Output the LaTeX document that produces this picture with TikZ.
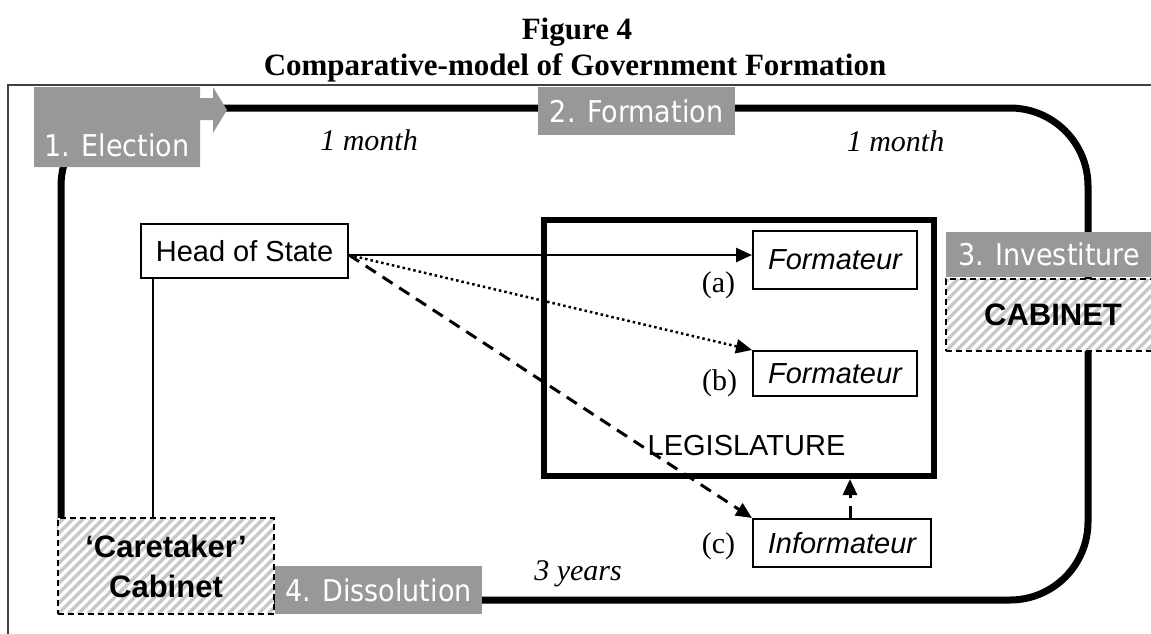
\documentclass[tikz,border=0pt]{standalone}
\usepackage{fontspec}
\setmainfont{Liberation Sans}
\newfontfamily\timesfont{Liberation Serif}
\newfontfamily\tahomafont{DejaVu Sans Condensed}
\usetikzlibrary{arrows.meta}
\definecolor{phasegray}{RGB}{152,152,152}
\definecolor{hatchgray}{RGB}{200,200,200}

\begin{document}
\begin{tikzpicture}[x=1pt,y=-1pt,
    phase/.style={fill=phasegray,text=white,inner sep=0pt,
        font=\tahomafont\fontsize{30}{36}\selectfont},
    akteur/.style={draw,line width=2pt,inner sep=0pt,
        font=\fontsize{29}{34}\selectfont},
    kabinett/.style={draw,dash pattern=on 6pt off 4pt,line width=2pt,
        fill=white,inner sep=0pt,align=center,
        path picture={\foreach \k in {-120,-110,...,230}
            \draw [solid,hatchgray,line width=3.5pt]
                ([xshift=\k pt]path picture bounding box.south west) -- ++(160pt,160pt);},
        font=\bfseries\fontsize{31}{40}\selectfont},
    dauer/.style={anchor=base,font=\timesfont\itshape\fontsize{30}{36}\selectfont},
    fall/.style={anchor=base,font=\timesfont\fontsize{30}{36}\selectfont},
    pfeil/.style={-{Triangle[length=16pt,width=14pt]},line width=2.5pt}]
    \useasboundingbox (0,0) rectangle (1151,633);
    \clip (0,0) rectangle (1151,633);
    % Titel
    \node [anchor=base,font=\timesfont\bfseries\fontsize{31}{36}\selectfont] (fig) at (577,39) {Figure 4};
    \node [anchor=base,font=\timesfont\bfseries\fontsize{31}{36}\selectfont] (titel) at (575,75) {Comparative-model of Government Formation};
    % Rahmen
    \draw [line width=2.5pt,black!75] (8,640) -- (8,85) -- (1160,85);
    % Zyklus
    \draw [line width=7pt,rounded corners=78pt] (61,108) rectangle (1088,600);
    \fill [phasegray] (34,87) -- (200,87) -- (200,98) -- (213,98) -- (213,87) -- (227,110)
        -- (213,133) -- (213,120) -- (200,120) -- (200,167) -- (34,167) -- cycle;
    \node [phase] (wahl) at (117,145) {1. Election};
    \node [phase,minimum width=197pt,minimum height=48pt] (bildung) at (636.5,111) {2. Formation};
    \node [phase,minimum width=206pt,minimum height=45pt] (invest) at (1049,254.5) {3. Investiture};
    \node [phase,minimum width=207pt,minimum height=48pt] (aufl) at (378.5,590) {4. Dissolution};
    \node [kabinett,minimum width=214pt,minimum height=72pt] (kab) at (1053,315) {CABINET};
    \node [kabinett,minimum width=216pt,minimum height=96pt] (hueter) at (166,566) {‘Caretaker’\\Cabinet};
    % Dauer
    \node [dauer] (monat1) at (369,150) {1 month};
    \node [dauer] (monat2) at (895.5,151) {1 month};
    \node [dauer] (jahre) at (578,580) {3 years};
    % Akteure
    \node [draw,line width=6pt,minimum width=390pt,minimum height=256pt] (parl) at (739,348) {};
    \node [anchor=base,font=\fontsize{29}{34}\selectfont] (parltext) at (746.5,455) {LEGISLATURE};
    \node [akteur,minimum width=207pt,minimum height=54pt] (staat) at (244.5,251) {Head of State};
    \node [akteur,minimum width=164pt,minimum height=58pt] (forma) at (835,260) {\itshape Formateur};
    \node [akteur,minimum width=164pt,minimum height=45pt] (formb) at (835,373.5) {\itshape Formateur};
    \node [akteur,minimum width=178pt,minimum height=48pt] (inform) at (842,543) {\itshape Informateur};
    \node [fall] (fa) at (718.5,292) {(a)};
    \node [fall] (fb) at (719.5,390) {(b)};
    \node [fall] (fc) at (718.5,553) {(c)};
    % Pfeile
    \coordinate (ab) at ([yshift=-4pt]staat.east);
    \draw [pfeil] (ab) -- (ab -| forma.west);
    \draw [pfeil,dash pattern=on 2.5pt off 3pt] (ab) -- (formb.north west);
    \draw [pfeil,line width=3pt,dash pattern=on 12pt off 8pt] (ab) -- (inform.north west);
    \draw [pfeil,line width=3pt,dash pattern=on 12pt off 8pt] ([xshift=8pt]inform.north) -- ([xshift=8pt]inform.north |- parl.south);
    \draw [line width=2pt] ([xshift=13pt]staat.south west) -- ([xshift=13pt]staat.south west |- hueter.north);
\end{tikzpicture}
\end{document}
